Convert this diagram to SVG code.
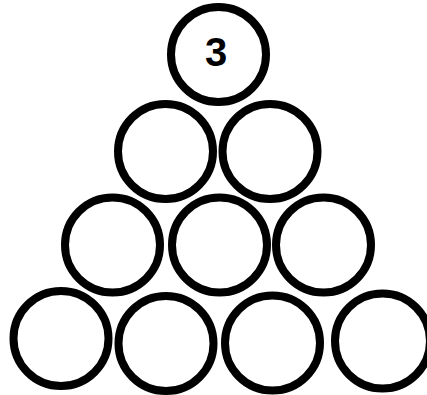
<svg xmlns="http://www.w3.org/2000/svg" width="427" height="395" viewBox="0 0 427 395">
<style>
.c{fill:none;stroke:#000;stroke-width:8}
.t{font-family:"Liberation Sans",Arial,sans-serif;font-weight:bold;font-size:40px;text-anchor:middle;fill:#000}
</style>
<rect width="427" height="395" fill="#fff"/>
<g id="connectors"/>
<g id="n1"><circle class="c" cx="218.5" cy="54.5" r="47.5"/><text class="t" x="216" y="66">3</text></g>
<g id="n2"><circle class="c" cx="165.5" cy="151.5" r="47.5"/></g>
<g id="n3"><circle class="c" cx="270" cy="151.5" r="47.5"/></g>
<g id="n4"><circle class="c" cx="112.5" cy="245" r="47.5"/></g>
<g id="n5"><circle class="c" cx="219.5" cy="245" r="47.5"/></g>
<g id="n6"><circle class="c" cx="323.5" cy="245" r="47.5"/></g>
<g id="n7"><circle class="c" cx="61" cy="338.5" r="47.5"/></g>
<g id="n8"><circle class="c" cx="166" cy="343.5" r="47.5"/></g>
<g id="n9"><circle class="c" cx="272.5" cy="343" r="47.5"/></g>
<g id="n10"><circle class="c" cx="382.5" cy="341" r="47.5"/></g>
</svg>
